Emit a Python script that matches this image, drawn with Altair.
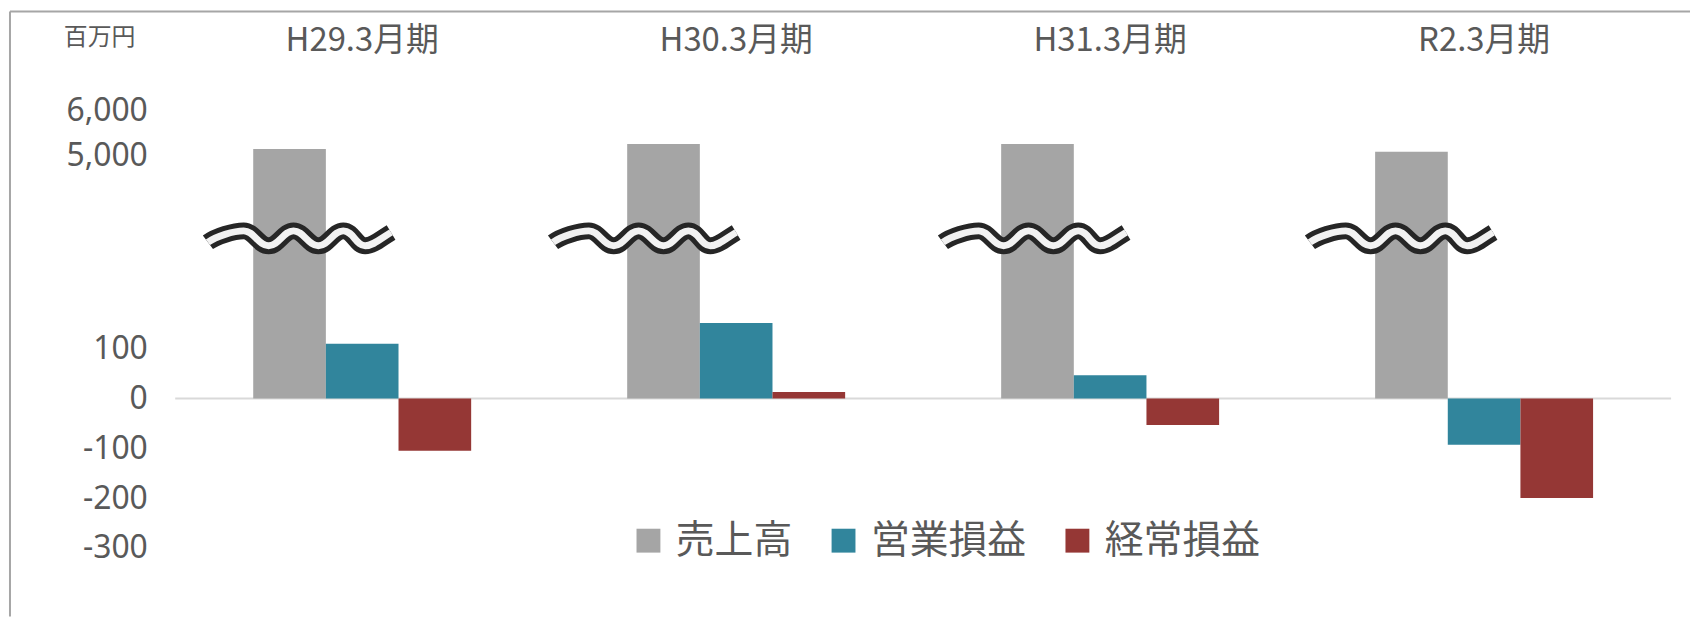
import altair as alt
import pandas as pd

# ---- data ----
periods = ["H29.3月期", "H30.3月期", "H31.3月期", "R2.3月期"]
series = ["売上高", "営業損益", "経常損益"]
sales = [5150, 5265, 5265, 5090]          # 売上高 (百万円)
operating = [110, 152, 47, -93]           # 営業損益
ordinary = [-105, 13, -53, -200]          # 経常損益
y_ticks = [-300, -200, -100, 0, 100, 5000, 6000]
colors = ["#A5A5A5", "#31859C", "#953735"]

rows = []
for i, p in enumerate(periods):
    rows.append({"period": p, "series": series[0], "value": sales[i]})
    rows.append({"period": p, "series": series[1], "value": operating[i]})
    rows.append({"period": p, "series": series[2], "value": ordinary[i]})
df = pd.DataFrame(rows)

W, H = 1503, 548
TXT = "#595959"
CJK = "Noto Sans CJK JP"

# wavy "axis break" symbol (decoration), unit square -1..1
WAVE = ("M -0.92 0.04 C -0.84 -0.02 -0.66 -0.075 -0.56 -0.075 "
        "C -0.46 -0.075 -0.41 0.075 -0.31 0.075 "
        "C -0.21 0.075 -0.16 -0.075 -0.06 -0.075 "
        "C 0.04 -0.075 0.09 0.075 0.19 0.075 "
        "C 0.29 0.075 0.34 -0.075 0.44 -0.075 "
        "C 0.54 -0.075 0.57 0.075 0.66 0.075 "
        "C 0.74 0.075 0.82 0.0 0.92 -0.06")

x_enc = alt.X(
    "period:N", sort=periods,
    scale=alt.Scale(paddingInner=0.4172, paddingOuter=0.2086),
    axis=alt.Axis(orient="top", title=None, labelAngle=0, labelFontSize=33,
                  labelFont=CJK, labelColor=TXT, domain=False, ticks=False,
                  tickSize=0, labelPadding=31, labelBaseline="middle", grid=False),
)
# broken axis: lower part -300..250 at 0.5 px/unit, upper part 4000..6000 at 0.045 px/unit
y_scale = alt.Scale(domain=[-300, 250, 4000, 6000], range=[479, 204, 130, 40],
                    zero=False, nice=False)
y_axis = alt.Axis(values=y_ticks,
                  labelExpr="(datum.value < 0 ? '-' : '') + format(abs(datum.value), ',.0f')",
                  labelFontSize=32, labelFont="Noto Sans", labelColor=TXT,
                  domain=False, ticks=False, tickSize=0, grid=False,
                  labelPadding=28, title=None)

zero_line = alt.Chart(pd.DataFrame({"value": [0]})).mark_rule(
    stroke="#D9D9D9", strokeWidth=2
).encode(y=alt.Y("value:Q", scale=y_scale, axis=y_axis),
         x=alt.value(0), x2=alt.value(W))

bars = alt.Chart(df).mark_bar().encode(
    x=x_enc,
    xOffset=alt.XOffset("series:N", sort=series,
                        scale=alt.Scale(paddingInner=0, paddingOuter=0)),
    y=alt.Y("value:Q", scale=y_scale, axis=y_axis),
    y2=alt.datum(0),
    color=alt.Color("series:N", sort=series,
                    scale=alt.Scale(domain=series, range=colors),
                    legend=alt.Legend(orient="none", legendX=456, legendY=452,
                                      direction="horizontal", title=None,
                                      symbolType="square", symbolSize=576,
                                      symbolStrokeWidth=0, labelFontSize=39,
                                      labelFont=CJK, labelColor=TXT,
                                      labelOffset=8, columnPadding=31,
                                      padding=0)),
)

wave_offsets = [-63, -92, -76, -83]
waves = []
for p, off in zip(periods, wave_offsets):
    d = pd.DataFrame({"period": [p]})
    waves.append(alt.Chart(d).mark_point(
        shape=WAVE, size=40000, filled=False, stroke="#262626", strokeWidth=17,
        strokeCap="butt", strokeJoin="round", opacity=1, xOffset=off
    ).encode(x=x_enc, y=alt.value(168)))
    waves.append(alt.Chart(d).mark_point(
        shape=WAVE, size=40000, filled=False, stroke="#F2F2F2", strokeWidth=7,
        strokeCap="butt", strokeJoin="round", opacity=1, xOffset=off
    ).encode(x=x_enc, y=alt.value(168)))

one = pd.DataFrame({"a": [0]})
unit = alt.Chart(one).mark_text(
    text="百万円", font=CJK, fontSize=24, color=TXT, align="center", baseline="middle"
).encode(x=alt.value(-76), y=alt.value(-33))

frame_left = alt.Chart(one).mark_rule(stroke="#A6A6A6", strokeWidth=2).encode(
    x=alt.value(-166), y=alt.value(-60), y2=alt.value(H))
frame_top = alt.Chart(one).mark_rule(stroke="#A6A6A6", strokeWidth=2).encode(
    x=alt.value(-166), x2=alt.value(1530), y=alt.value(-60))

chart = alt.layer(zero_line, bars, *waves, unit, frame_left, frame_top).properties(
    width=W, height=H,
    autosize=alt.AutoSizeParams(type="none"),
    padding={"left": 168, "top": 62, "right": 19, "bottom": 0},
).configure_view(stroke=None).resolve_scale(y="shared", x="shared")

chart.save("out.html", embed_options={"renderer": "svg", "actions": False})
